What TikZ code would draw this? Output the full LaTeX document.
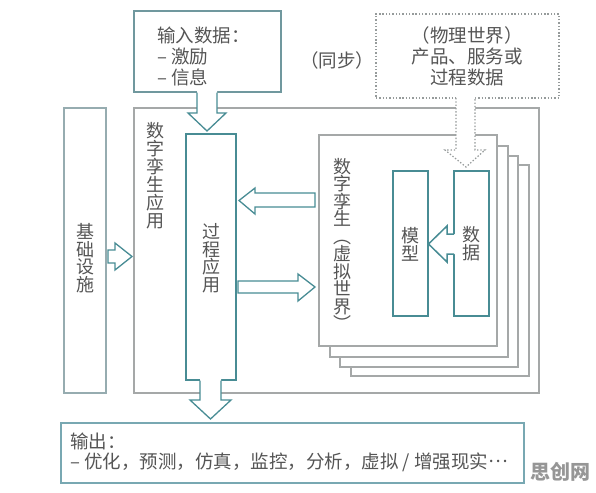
\documentclass[tikz,border=0pt]{standalone}
\usepackage{fontspec}
\setmainfont{Noto Sans CJK SC}
\definecolor{tealA}{RGB}{72,140,148}
\definecolor{grayB}{RGB}{165,168,168}
\definecolor{txtC}{RGB}{85,85,85}
\definecolor{inC}{RGB}{112,152,158}
\definecolor{outC}{RGB}{120,168,178}
\definecolor{infC}{RGB}{150,172,176}
\definecolor{dotC}{RGB}{150,155,155}
\definecolor{wmC}{RGB}{150,150,150}
\begin{document}
\begin{tikzpicture}[x=1pt,y=-1pt,
  box/.style={draw, line width=1.2pt, inner sep=0pt, outer sep=0pt, fill=white},
  tbox/.style={box, draw=tealA, line width=1.5pt},
  page/.style={box, draw=grayB, minimum width=178, minimum height=211},
  hollow/.style={draw=tealA, line width=1.3pt, line join=miter},
  txt/.style={text=txtC, font=\fontsize{18.5}{21}\selectfont, inner sep=0pt},
  vtxt/.style={text=txtC, font=\fontsize{18}{17.5}\selectfont, align=center, inner sep=0pt},
  dotline/.style={draw=dotC, line width=1.2pt, dash pattern=on 1.4pt off 1.9pt}]
\useasboundingbox (0,0) rectangle (596,492);
\fill[white] (0,0) rectangle (596,492);

% main boxes
\node[box, draw=grayB, minimum width=405, minimum height=285] (app) at (336.5,250.5) {};
\node[box, draw=infC, minimum width=42, minimum height=285] (infra) at (85,250.5) {};
\node[box, draw=inC, minimum width=147, minimum height=81] (inbox) at (207.5,51.5) {};
\node[box, dotline, minimum width=183, minimum height=84] (phys) at (467.5,56) {};
\node[tbox, minimum width=50, minimum height=246] (proc) at (211,257) {};
\node[box, draw=outC, minimum width=463, minimum height=60] (out) at (292.5,453) {};

% stacked pages
\node[page] (p4) at (440,270.5) {};
\node[page] (p3) at (429,261.5) {};
\node[page] (p2) at (419,251.5) {};
\node[page] (p1) at (408,240.5) {};
\node[tbox, minimum width=35, minimum height=145] (model) at (410.5,243.5) {};
\node[tbox, minimum width=35, minimum height=145] (data) at (471.5,243.5) {};

% hollow arrows
% input -> process (open at top)
\fill[white] (197,91) -- (197,113) -- (188,113) -- (207,131) -- (226,113) -- (217,113) -- (217,91) -- cycle;
\draw[hollow] (197,92.6) -- (197,113) -- (188,113) -- (207,131) -- (226,113) -- (217,113) -- (217,92.6);
% process -> output (open at top)
\fill[white] (200,379) -- (200,400) -- (190,400) -- (210.5,419) -- (231,400) -- (221,400) -- (221,379) -- cycle;
\draw[hollow] (200,380.6) -- (200,400) -- (190,400) -- (210.5,419) -- (231,400) -- (221,400) -- (221,380.6);
% infrastructure -> application
\draw[hollow, fill=white] (108,250) -- (115,250) -- (115,243) -- (132,256.5) -- (115,270) -- (115,263) -- (108,263) -- cycle;
% twin -> process
\draw[hollow, fill=white] (315,193) -- (255,193) -- (255,188) -- (239,200.5) -- (255,214) -- (255,207) -- (315,207) -- cycle;
% process -> twin
\draw[hollow, fill=white] (238,281) -- (298,281) -- (298,274) -- (315,287) -- (298,301) -- (298,293) -- (238,293) -- cycle;
% data -> model (open at right)
\fill[white] (455,234) -- (447,234) -- (447,226) -- (428,244) -- (447,262) -- (447,254) -- (455,254) -- cycle;
\draw[hollow, line width=1.5pt] (454.2,234) -- (447,234) -- (447,226) -- (428.5,244) -- (447,262) -- (447,254) -- (454.2,254);
% physical world -> data (dotted, open at top)
\fill[white] (456,97) -- (456,150) -- (445,150) -- (466,167) -- (485,150) -- (475,150) -- (475,97) -- cycle;
\draw[dotline] (456,98) -- (456,150) -- (445,150) -- (466,167) -- (485,150) -- (475,150) -- (475,98);

% texts
\node[txt, anchor=west, align=left] (intext) at (157,56) {输入数据：\\– 激励\\– 信息};
\node[txt] (sync) at (337,60) {（同步）};
\node[txt, align=center] (phystext) at (467,56) {（物理世界）\\产品、服务或\\过程数据};
\node[vtxt, font=\fontsize{18}{18}\selectfont] (applabel) at (155,176) {数\\字\\孪\\生\\应\\用};
\node[vtxt] (infralabel) at (85,258) {基\\础\\设\\施};
\node[vtxt] (proclabel) at (211,258) {过\\程\\应\\用};
\node[vtxt] (twinlabel) at (342,244.5) {数\\字\\孪\\生\\︵\\虚\\拟\\世\\界\\︶};
\node[vtxt, font=\fontsize{18}{18}\selectfont] (modellabel) at (410.5,244) {模\\型};
\node[vtxt, font=\fontsize{18}{18}\selectfont] (datalabel) at (471.5,244) {数\\据};
\node[txt, anchor=west, align=left, font=\fontsize{18.5}{20}\selectfont] (outtext) at (70,452) {输出：\\– 优化，预测，仿真，监控，分析，虚拟 / 增强现实\raisebox{0.3em}{…}};
\node[text=wmC, font=\fontsize{20}{20}\selectfont\bfseries, inner sep=0pt] (wm) at (560,472) {思创网};
\end{tikzpicture}
\end{document}
